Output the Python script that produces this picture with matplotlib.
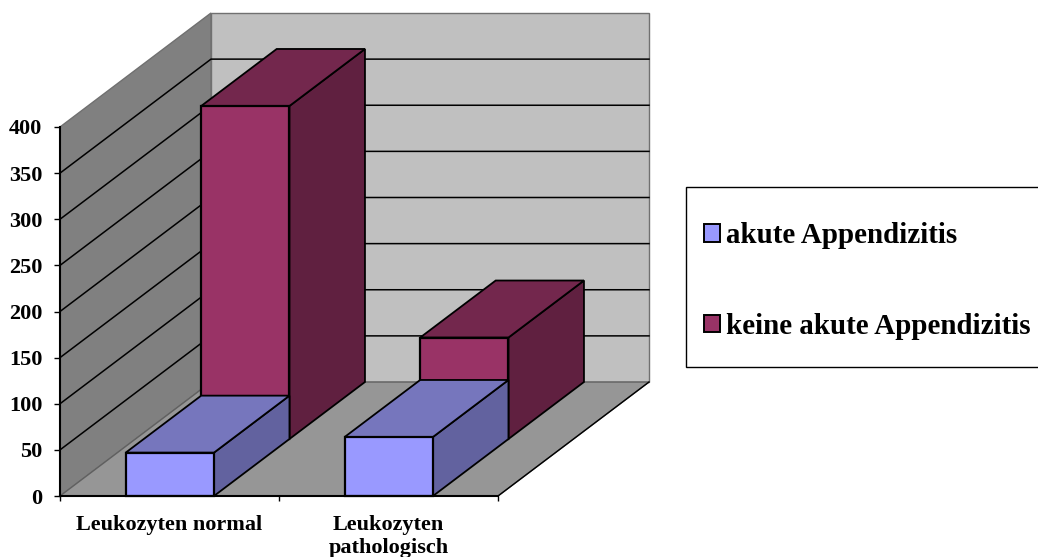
import matplotlib
matplotlib.use('Agg')
import matplotlib.pyplot as plt
from matplotlib.patches import Polygon, Patch, Rectangle

plt.rcParams['font.family'] = ['Liberation Serif', 'DejaVu Serif']
plt.rcParams['font.weight'] = 'bold'

categories = ['Leukozyten normal', 'Leukozyten\npathologisch']
series_names = ['akute Appendizitis', 'keine akute Appendizitis']
akute = [47, 64]
keine = [361, 110]
yticks = [0, 50, 100, 150, 200, 250, 300, 350, 400]

# oblique projection of the fake 3D box, one depth unit = whole floor depth
DX = 151 / 219
DY = 114 / 0.9225
BAR_OFFSET = 0.3
BAR_WIDTH = 0.403
SERIES_DEPTH = 0.5


def proj(x, y, d):
    return (x + d * DX, y + d * DY)


fig = plt.figure(figsize=(10.38, 5.57), dpi=100)
ax = fig.add_axes([60 / 1038, (557 - 496) / 557, 438 / 1038, 369 / 557])
ax.set_xlim(0, 2)
ax.set_ylim(0, 400)
ax.patch.set_visible(False)


def face(pts, color, edge='black', lw=1.3, z=1):
    ax.add_patch(Polygon(pts, closed=True, facecolor=color, edgecolor=edge,
                         linewidth=lw, clip_on=False, zorder=z, joinstyle='miter'))


# walls and floor
face([proj(0, 0, 0), proj(0, 400, 0), proj(0, 400, 1), proj(0, 0, 1)], '#808080', edge='#707070', lw=1)
face([proj(0, 0, 1), proj(0, 400, 1), proj(2, 400, 1), proj(2, 0, 1)], '#c0c0c0', edge='#707070', lw=1)
face([proj(0, 0, 0), proj(2, 0, 0), proj(2, 0, 1), proj(0, 0, 1)], '#969696', edge='#606060', lw=1)
ax.plot(*zip(proj(2, 0, 0), proj(2, 0, 1)), color='black', lw=1, clip_on=False, zorder=1)

for v in yticks[1:-1]:
    pts = [proj(0, v, 0), proj(0, v, 1), proj(2, v, 1)]
    ax.plot([p[0] for p in pts], [p[1] for p in pts], color='black', lw=1.1, clip_on=False, zorder=1)


def bar(cat, value, d0, front, top, side, z):
    x0 = cat + BAR_OFFSET
    x1 = x0 + BAR_WIDTH
    d1 = d0 + SERIES_DEPTH
    face([proj(x1, 0, d0), proj(x1, value, d0), proj(x1, value, d1), proj(x1, 0, d1)], side, z=z)
    face([proj(x0, value, d0), proj(x1, value, d0), proj(x1, value, d1), proj(x0, value, d1)], top, z=z)
    face([proj(x0, 0, d0), proj(x1, 0, d0), proj(x1, value, d0), proj(x0, value, d0)], front, lw=1.6, z=z)


for i in range(len(categories)):
    bar(i, keine[i], SERIES_DEPTH, '#993366', '#73274d', '#602040', 2)
    bar(i, akute[i], 0, '#9999ff', '#7676bd', '#62629f', 3)

# axes
for s in ['top', 'right']:
    ax.spines[s].set_visible(False)
for s in ['left', 'bottom']:
    ax.spines[s].set_linewidth(1.5)
    ax.spines[s].set_zorder(5)
ax.set_yticks(yticks)
ax.tick_params(axis='y', labelsize=16, length=4.3, width=1, pad=8.5)
ax.set_xticks([0, 1, 2])
ax.set_xticklabels([])
ax.tick_params(axis='x', which='major', length=3.5, width=1)
ax.set_xticks([0.5, 1.5], minor=True)
ax.set_xticklabels(categories, minor=True, fontsize=16, linespacing=1.15)
ax.tick_params(axis='x', which='minor', length=0, pad=14)

# legend box runs off the right side of the picture
fig.add_artist(Rectangle((686 / 1038, 1 - 367 / 557), 400 / 1038, 180 / 557,
                         transform=fig.transFigure, facecolor='white',
                         edgecolor='black', linewidth=1, zorder=1))
handles = [Patch(facecolor='#9999ff', edgecolor='black', linewidth=1.4),
           Patch(facecolor='#993366', edgecolor='black', linewidth=1.4)]
leg = fig.legend(handles, series_names, loc='upper left',
                 bbox_to_anchor=(704 / 1038, 1 - 222 / 557), borderaxespad=0,
                 fontsize=20.85, frameon=False, borderpad=0, labelspacing=2.2,
                 handlelength=0.56, handleheight=0.56, handletextpad=0.2)
leg.set_zorder(2)

fig.savefig('out.png', dpi=100)
